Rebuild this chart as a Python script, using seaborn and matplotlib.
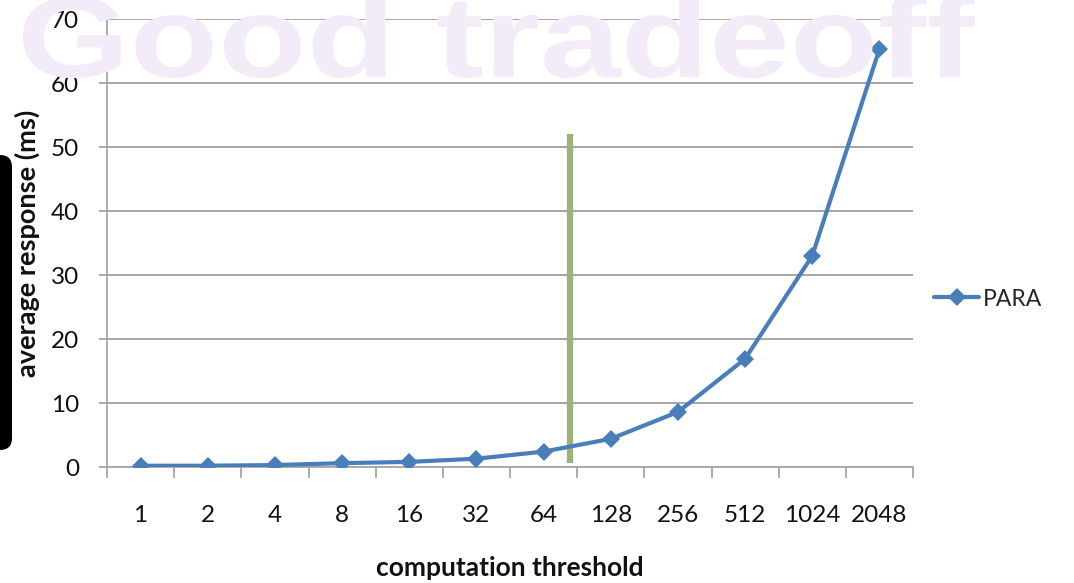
import numpy as np
import pandas as pd
import matplotlib
matplotlib.use("Agg")
import matplotlib.pyplot as plt
import seaborn as sns
from matplotlib.textpath import TextPath
from matplotlib.patches import PathPatch, FancyBboxPatch
from matplotlib.font_manager import FontProperties
from matplotlib.transforms import Affine2D

# Computation threshold categories and measured average response (ms)
thresholds = ["1", "2", "4", "8", "16", "32", "64", "128", "256", "512", "1024", "2048"]
para_ms = [0.2, 0.2, 0.3, 0.6, 0.8, 1.3, 2.4, 4.4, 8.6, 16.9, 33.0, 65.3]
y_ticks = [0, 10, 20, 30, 40, 50, 60, 70]

# Chosen cut-off, placed between the 64 and 128 categories
cutoff_pos = 6.39
cutoff_span = [0.6, 52.0]

sns.set_theme(style="white")
plt.rcParams["font.family"] = ["Lato", "DejaVu Sans"]

W, H = 1074, 583
fig = plt.figure(figsize=(W / 100, H / 100), dpi=100)
fig.patch.set_facecolor("white")

# Background banner text
fp = FontProperties(family="Liberation Sans", weight="bold")
o_path = TextPath((0, 0), "o", size=100, prop=fp)
o_h = o_path.vertices[:, 1].max() - o_path.vertices[:, 1].min()
tp = TextPath((0, 0), "Good tradeoff", size=100, prop=fp)
xmin, xmax = tp.vertices[:, 0].min(), tp.vertices[:, 0].max()
sx = 958 / (xmax - xmin)
sy = 63 / o_h
tr = Affine2D().translate(-xmin, 0).scale(sx, sy).translate(17, H - 77)
banner = PathPatch(tr.transform_path(tp), facecolor="#F3ECF8", edgecolor="none",
                   transform=None, zorder=0)
fig.patches.append(banner)

ax = fig.add_axes([107 / W, 116 / H, 806 / W, 448 / H])
ax.set_facecolor("none")

df = pd.DataFrame({"threshold": thresholds, "ms": para_ms})
sns.lineplot(data=df, x="threshold", y="ms", ax=ax, color="#4A7EBB",
             linewidth=3.0, marker="D", markersize=9.5, markeredgewidth=0,
             label="PARA", zorder=4, sort=False)

ax.vlines(cutoff_pos, cutoff_span[0], cutoff_span[1], color="#9BB37A",
          linewidth=4.5, zorder=3)

ax.set_xlim(-0.5, len(thresholds) - 0.5)
ax.set_ylim(0, 70)
ax.set_yticks(y_ticks)
ax.yaxis.grid(True, color="#A6A6A6", linewidth=1.4)
ax.set_axisbelow(True)

for side in ["top", "right"]:
    ax.spines[side].set_visible(False)
for side in ["left", "bottom"]:
    ax.spines[side].set_color("#A6A6A6")
    ax.spines[side].set_linewidth(1.3)

ax.set_xticks(range(len(thresholds)))
ax.set_xticklabels(thresholds)
ax.set_xticks(np.arange(-0.5, len(thresholds), 1.0), minor=True)
ax.tick_params(axis="x", which="major", length=0, pad=27, labelsize=17.5,
               labelcolor="#111111")
ax.tick_params(axis="x", which="minor", length=8, width=1.3, color="#A6A6A6",
               direction="out", bottom=True)
ax.tick_params(axis="y", which="major", length=6, width=1.3, color="#A6A6A6",
               direction="out", left=True, pad=14, labelsize=17.5,
               labelcolor="#111111")

ax.set_xlabel("computation threshold", fontsize=19, fontweight="bold",
              labelpad=22, color="#111111")
ax.set_ylabel("average response (ms)", fontsize=19.5, fontweight="bold",
              labelpad=8, color="#111111")

leg = ax.legend(loc="center left", bbox_to_anchor=(1.0, 0.375), frameon=False,
                fontsize=16.5, handlelength=2.0, handletextpad=0.15)

# Dark rounded tab on the left edge
tab = FancyBboxPatch((-20, H - 450), 32, 295,
                     boxstyle="round,pad=0,rounding_size=12",
                     facecolor="black", edgecolor="none", transform=None,
                     zorder=1)
fig.patches.append(tab)

fig.savefig("out.png", dpi=100)
